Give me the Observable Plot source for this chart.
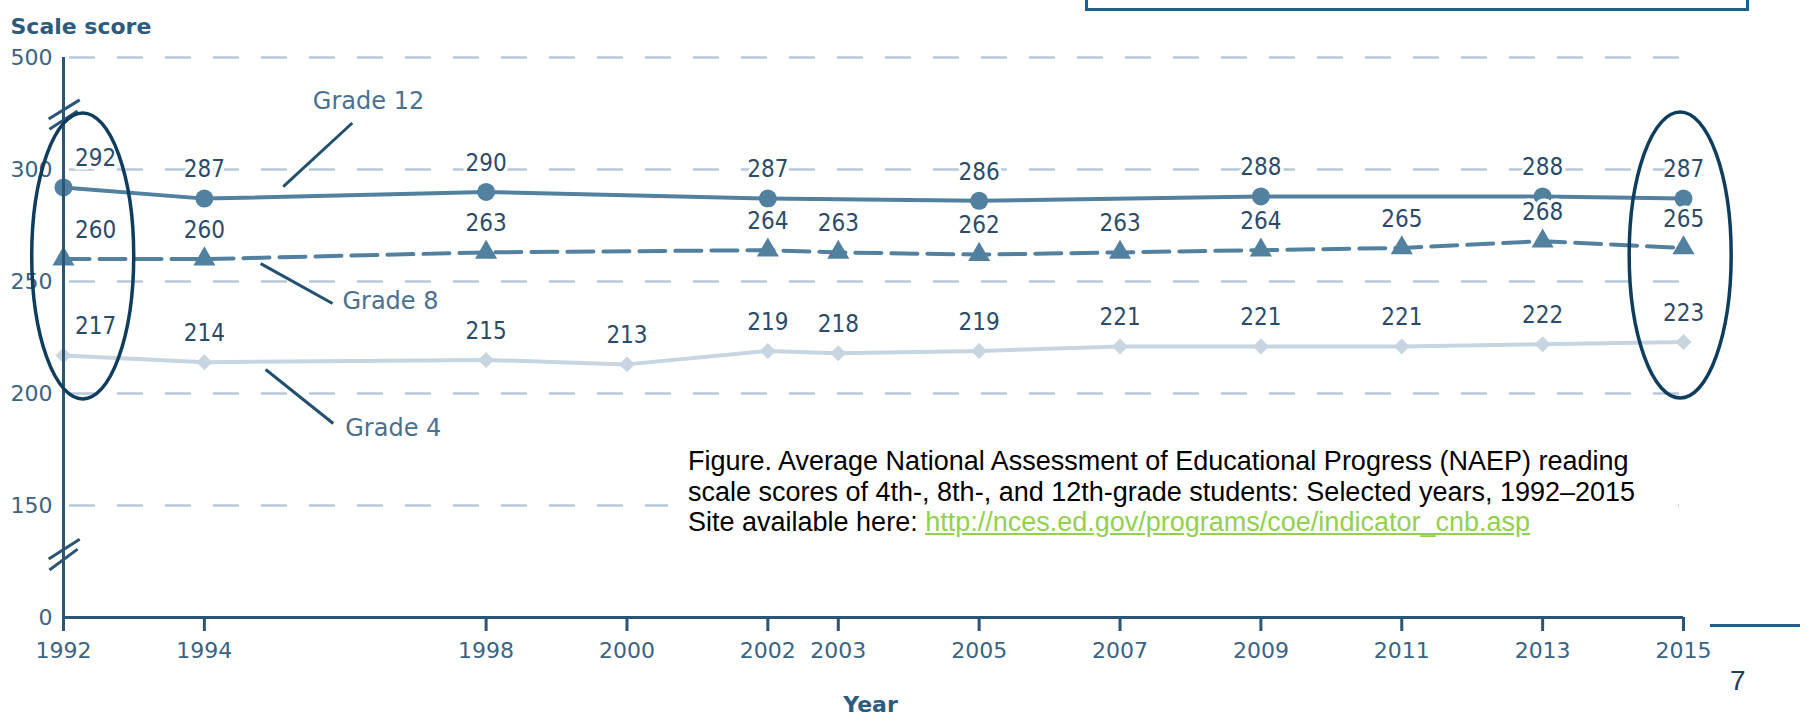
<!DOCTYPE html>
<html>
<head>
<meta charset="utf-8">
<script src="https://cdn.jsdelivr.net/npm/d3@7"></script>
<script src="https://cdn.jsdelivr.net/npm/@observablehq/plot@0.6"></script>
<style>
  html, body { margin: 0; padding: 0; background: #fff; }
  body { width: 1810px; height: 724px; overflow: hidden; position: relative; }
  #chart { position: absolute; left: 0; top: 0; }
  .topbox { position: absolute; left: 1085px; top: -30px; width: 664px; height: 41px; border: 3px solid #1f5f8b; box-sizing: border-box; }
  .caption { position: absolute; left: 668px; top: 443px; padding: 3px 20px 3px 20px; width: 970px; background: #fff;
             font-family: "Liberation Sans", Arial, sans-serif; font-size: 27px; line-height: 30.5px; color: #000; white-space: nowrap; }
  .caption a { color: #92d050; text-decoration: underline; }
  .pagerule { position: absolute; left: 1710px; top: 624px; width: 90px; height: 3px; background: #1f5f8b; }
  .pagenum { position: absolute; left: 1730px; top: 664px; font-family: "Liberation Sans", Arial, sans-serif; font-size: 28px; line-height: 34px; color: #1f3b5c; }
</style>
</head>
<body>
<div id="chart"></div>
<div class="topbox"></div>
<div class="caption">Figure. Average National Assessment of Educational Progress (NAEP) reading<br>scale scores of 4th-, 8th-, and 12th-grade students: Selected years, 1992–2015<br>Site available here: <a href="http://nces.ed.gov/programs/coe/indicator_cnb.asp">http://nces.ed.gov/programs/coe/indicator_cnb.asp</a></div>
<div class="pagerule"></div>
<div class="pagenum">7</div>
<script>
// ---- data ----
const years = [1992, 1994, 1998, 2000, 2002, 2003, 2005, 2007, 2009, 2011, 2013, 2015];
const grade12Years = [1992, 1994, 1998, 2002, 2005, 2009, 2013, 2015];
const grade12 = [292, 287, 290, 287, 286, 288, 288, 287];
const grade8Years = [1992, 1994, 1998, 2002, 2003, 2005, 2007, 2009, 2011, 2013, 2015];
const grade8 = [260, 260, 263, 264, 263, 262, 263, 264, 265, 268, 265];
const grade4Years = [1992, 1994, 1998, 2000, 2002, 2003, 2005, 2007, 2009, 2011, 2013, 2015];
const grade4 = [217, 214, 215, 213, 219, 218, 219, 221, 221, 221, 222, 223];
const yTicks = [0, 150, 200, 250, 300, 500];
const gridTicks = [150, 200, 250, 300, 500];

// series name annotations (data space)
const seriesNames = ["Grade 12", "Grade 8", "Grade 4"];
const nameX = [1995.54, 1995.96, 1996.0];
const nameY = [422, 241, 184.4];
const leaderX1 = [1996.10, 1994.80, 1994.87];
const leaderY1 = [383, 258, 210.7];
const leaderX2 = [1995.12, 1995.82, 1995.83];
const leaderY2 = [292.4, 240.2, 186.6];

// axis break marks (data space)
const breakX1 = [1991.79, 1991.80, 1991.79, 1991.80];
const breakX2 = [1992.23, 1992.20, 1992.23, 1992.20];
const breakY1 = [390, 372, 78.3, 63.7];
const breakY2 = [424.3, 404.5, 104.9, 91.6];

// highlight ovals (data-space centers)
const ovalYears = [1992.28, 2014.96];
const ovalScores = [261.2, 261.6];

// broken axis: each labelled tick interval gets an equal step
const brokenAxis = d3.scaleLinear().domain(yTicks).range(yTicks.map((d, i) => i));

// ---- tables ----
const zip = (xs, ys) => xs.map((x, i) => ({year: x, score: ys[i]}));
const g12 = zip(grade12Years, grade12);
const g8 = zip(grade8Years, grade8);
const g4 = zip(grade4Years, grade4);
const names = seriesNames.map((n, i) => ({name: n, x: nameX[i], y: nameY[i], x1: leaderX1[i], y1: leaderY1[i], x2: leaderX2[i], y2: leaderY2[i]}));
const breaks = breakX1.map((x, i) => ({x1: x, x2: breakX2[i], y1: breakY1[i], y2: breakY2[i]}));
const Y = (k) => (d) => brokenAxis(d[k]);

const axisC = "#2a5577";
const dark = "#24506f";
const mid = "#52809f";
const light = "#c6d5df";
const gridC = "#b7c9d7";
const labelC = "#2b4b69";
const tickC = "#3a6384";

const valueText = (data, first) => Plot.text(data.filter(d => (d.year === 1992) === first), {
  x: "year", y: Y("score"), text: d => String(d.score), dy: -29, dx: first ? 32 : 0,
  fontFamily: "DejaVu Sans Condensed", fontSize: 24, fill: labelC, stroke: "white", strokeWidth: 7
});

const xAxisMarks = Plot.axisX
  ? [Plot.axisX({ticks: years, tickFormat: d => String(d), tickSize: 14, tickPadding: 11, stroke: axisC, strokeWidth: 3,
                 fill: tickC, fontSize: 22, fontFamily: "DejaVu Sans", label: null})]
  : [Plot.text(years, {x: d => d, frameAnchor: "bottom", text: d => String(d), dy: 33, fill: tickC, fontSize: 22})];

const plot = Plot.plot({
  width: 1810, height: 724,
  marginLeft: 63, marginRight: 127, marginTop: 57, marginBottom: 107,
  style: {fontFamily: "DejaVu Sans", fontSize: "22px", background: "transparent", overflow: "visible"},
  x: {domain: [1992, 2015], axis: null},
  y: {domain: [0, yTicks.length - 1], range: [617, 57], axis: null},
  marks: [
    Plot.ruleY(gridTicks, {y: d => brokenAxis(d), stroke: gridC, strokeWidth: 2.5, strokeDasharray: "26,22", strokeDashoffset: -6}),
    Plot.line(g4, {x: "year", y: Y("score"), stroke: light, strokeWidth: 4}),
    Plot.dot(g4, {x: "year", y: Y("score"), symbol: "diamond2", r: 7.2, fill: light}),
    Plot.line(g8, {x: "year", y: Y("score"), stroke: mid, strokeWidth: 4, strokeDasharray: "26,10"}),
    Plot.dot(g8, {x: "year", y: Y("score"), symbol: "triangle", r: 8.2, fill: mid}),
    Plot.line(g12, {x: "year", y: Y("score"), stroke: mid, strokeWidth: 4}),
    Plot.dot(g12, {x: "year", y: Y("score"), r: 9, fill: mid}),
    // axes
    ...xAxisMarks,
    Plot.ruleY([0], {y: d => brokenAxis(d), stroke: axisC, strokeWidth: 3}),
    Plot.ruleX([1992], {y1: brokenAxis(0), y2: brokenAxis(500), stroke: axisC, strokeWidth: 3}),
    Plot.link(breaks, {x1: "x1", y1: Y("y1"), x2: "x2", y2: Y("y2"), stroke: axisC, strokeWidth: 3}),
    Plot.text(yTicks, {x: 1992, y: d => brokenAxis(d), text: d => String(d), dx: -11, textAnchor: "end", fill: tickC, fontSize: 22, fontFamily: "DejaVu Sans"}),
    Plot.text(["Year"], {frameAnchor: "bottom", dx: -3, dy: 94, fill: "#2e5a7e", fontWeight: "bold", fontSize: 22, fontFamily: "DejaVu Sans"}),
    Plot.text(["Scale score"], {frameAnchor: "top-left", dx: -53, dy: -39, textAnchor: "start", fill: "#2e5a7e", fontWeight: "bold", fontSize: 22, fontFamily: "DejaVu Sans"}),
    // value labels
    valueText(g12, false), valueText(g12, true),
    valueText(g8, false), valueText(g8, true),
    valueText(g4, false), valueText(g4, true),
    // series names
    Plot.link(names, {x1: "x1", y1: Y("y1"), x2: "x2", y2: Y("y2"), stroke: dark, strokeWidth: 3}),
    Plot.text(names, {x: "x", y: Y("y"), text: "name", textAnchor: "start", fill: "#4a7090", fontSize: 24, fontFamily: "DejaVu Sans"})
  ]
});

const sx = plot.scale("x"), sy = plot.scale("y");
const svg = d3.select(plot);
svg.append("g").selectAll("ellipse").data(ovalYears).join("ellipse")
  .attr("cx", (d) => sx.apply(d))
  .attr("cy", (d, i) => sy.apply(brokenAxis(ovalScores[i])))
  .attr("rx", 51).attr("ry", 143)
  .attr("fill", "none").attr("stroke", "#0f3d5e").attr("stroke-width", 3.5);

document.getElementById("chart").appendChild(plot);
</script>
</body>
</html>
